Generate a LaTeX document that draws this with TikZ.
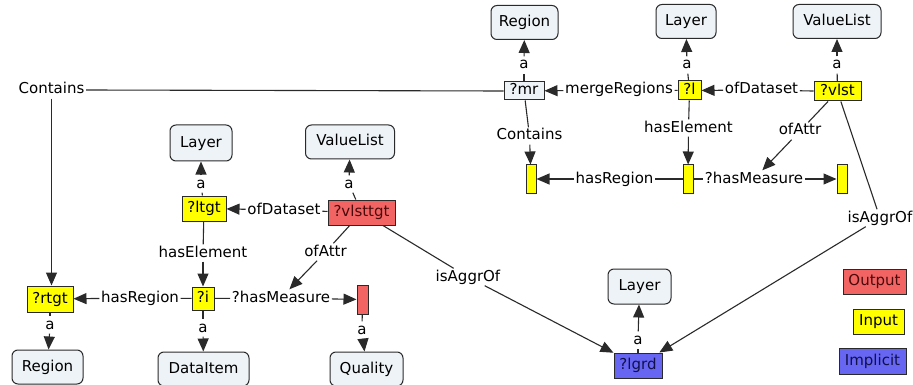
\documentclass[tikz,border=0pt]{standalone}
\usepackage{fontspec}
\setmainfont{DejaVu Sans}
\usetikzlibrary{arrows.meta}
\definecolor{clsfill}{HTML}{EDF3F6}
\definecolor{edgec}{HTML}{2A2A2A}
\definecolor{inyel}{HTML}{FFFF00}
\definecolor{outred}{HTML}{F26464}
\definecolor{impblue}{HTML}{6666F2}
\definecolor{outtext}{HTML}{4A0A0A}
\definecolor{imptext}{HTML}{10104A}

\begin{document}
\begin{tikzpicture}[x=1pt,y=-1pt,
  font=\fontsize{15}{17}\selectfont,
  cls/.style={draw=edgec, line width=1pt, fill=clsfill, rounded corners=6pt,
    minimum height=34pt, inner xsep=0pt, text height=11pt, text depth=3pt},
  var/.style={draw=edgec, line width=1pt, inner xsep=0pt, inner ysep=0pt,
    text height=11pt, text depth=3pt},
  inp/.style={var, fill=inyel},
  outp/.style={var, fill=outred, text=outtext},
  impl/.style={var, fill=impblue, text=imptext},
  slot/.style={draw=edgec, line width=1pt, minimum width=10pt,
    minimum height=28pt, inner sep=0pt},
  lab/.style={inner sep=1.5pt, text height=11pt, text depth=3pt},
  conn/.style={draw=edgec, line width=1.1pt},
  arr/.style={conn, -{Triangle[length=13pt,width=11pt]}},
]
\fill[white] (0,0) rectangle (913,385);
\useasboundingbox (0,0) rectangle (913,385);

% class boxes
\node[cls, minimum width=67pt] (regT) at (524.5,22.5) {Region};
\node[cls, minimum width=60pt] (layT) at (686,21.5) {Layer};
\node[cls, minimum width=88pt] (vlT) at (837,21.5) {ValueList};
\node[cls, minimum width=62pt, minimum height=36pt] (layL) at (201,143) {Layer};
\node[cls, minimum width=89pt] (vlL) at (350,142) {ValueList};
\node[cls, minimum width=71pt] (regB) at (47.5,367) {Region};
\node[cls, minimum width=91pt] (item) at (203.5,369) {DataItem};
\node[cls, minimum width=73pt] (qual) at (366.5,369) {Quality};
\node[cls, minimum width=63pt, minimum height=35pt] (layB) at (639.5,286.5) {Layer};

% variables, top pattern
\node[var, fill=clsfill, minimum width=40pt, minimum height=18pt] (mr) at (524,91) {?mr};
\node[inp, minimum width=23pt, minimum height=19pt] (l) at (689.5,90.5) {?l};
\node[inp, minimum width=47pt, minimum height=19pt] (vlst) at (837.5,91.5) {?vlst};
\node[slot, fill=inyel] (sL) at (531,179) {};
\node[slot, fill=inyel] (sM) at (688,179) {};
\node[slot, fill=inyel] (sR) at (842,179) {};

% variables, target pattern
\node[inp, minimum width=44pt, minimum height=25pt] (ltgt) at (204,208.5) {?ltgt};
\node[outp, minimum width=67pt, minimum height=25pt] (vlsttgt) at (361.5,212.5) {?vlsttgt};
\node[inp, minimum width=46pt, minimum height=26pt] (rtgt) at (50,299) {?rtgt};
\node[inp, minimum width=22pt, minimum height=23pt] (i) at (203,298.5) {?i};
\node[slot, fill=outred, minimum width=11pt, minimum height=29pt] (sQ) at (362.5,299.5) {};
\node[impl, minimum width=48pt, minimum height=25pt] (lgrd) at (638,365.5) {?lgrd};

% legend
\node[outp, minimum width=63pt, minimum height=25pt] (kOut) at (874.5,281.5) {Output};
\node[inp, minimum width=51pt, minimum height=25pt] (kIn) at (878.5,321.5) {Input};
\node[impl, minimum width=67pt, minimum height=26pt] (kImp) at (872.5,361) {Implicit};

% edge labels
\node[lab] (contA) at (51.5,90) {Contains};
\node[lab] (merge) at (619,90) {mergeRegions};
\node[lab] (ofdT) at (761.5,90) {ofDataset};
\node[lab] (contB) at (529.5,136) {Contains};
\node[lab] (helT) at (688.5,128) {hasElement};
\node[lab] (oattT) at (800,131) {ofAttr};
\node[lab] (hregT) at (614.5,179) {hasRegion};
\node[lab] (hmT) at (754,179) {?hasMeasure};
\node[lab] (aggT) at (880,218) {isAggrOf};
\node[lab] (ofdL) at (284,210) {ofDataset};
\node[lab] (helL) at (203,253) {hasElement};
\node[lab] (oattL) at (325.5,252) {ofAttr};
\node[lab] (hregL) at (140,298) {hasRegion};
\node[lab] (hmL) at (281,298) {?hasMeasure};
\node[lab] (aggL) at (468,277) {isAggrOf};

\node[lab] (aRegT) at (524,65) {a};
\node[lab] (aLayT) at (687,65) {a};
\node[lab] (aVlT) at (837,65) {a};
\node[lab] (aLayL) at (201,184) {a};
\node[lab] (aVlL) at (349,184) {a};
\node[lab] (aRtgt) at (50,325) {a};
\node[lab] (aItem) at (203,328) {a};
\node[lab] (aQ) at (362,330) {a};
\node[lab] (aLgrd) at (638,340) {a};

% connectors, top pattern
\draw[conn] (mr.west) -- (contA.east);
\draw[arr] (contA.south) -- (contA.south |- rtgt.north);
\draw[conn] (l) -- (merge);   \draw[arr] (merge) -- (mr);
\draw[conn] (vlst) -- (ofdT); \draw[arr] (ofdT) -- (l);
\draw[conn] (mr) -- (contB);  \draw[arr] (contB) -- (sL);
\draw[conn] (l) -- (helT);    \draw[arr] (helT) -- (sM);
\draw[conn] (vlst) -- (oattT); \draw[arr] (oattT) -- (hmT);
\draw[conn] (sM) -- (hregT);  \draw[arr] (hregT) -- (sL);
\draw[conn] (sM) -- (hmT);    \draw[arr] (hmT) -- (sR);
\draw[conn] (vlst) -- (aggT); \draw[arr] (aggT) -- (lgrd);

% connectors, target pattern
\draw[conn] (vlsttgt) -- (ofdL); \draw[arr] (ofdL) -- (ltgt);
\draw[conn] (ltgt) -- (helL);    \draw[arr] (helL) -- (i);
\draw[conn] (vlsttgt) -- (oattL); \draw[arr] (oattL) -- (hmL);
\draw[conn] (i) -- (hregL);      \draw[arr] (hregL) -- (rtgt);
\draw[conn] (i) -- (hmL);        \draw[arr] (hmL) -- (sQ);
\draw[conn] (vlsttgt) -- (aggL); \draw[arr] (aggL) -- (lgrd);

% type links
\draw[conn] (mr) -- (aRegT);     \draw[arr] (aRegT) -- (regT);
\draw[conn] (l) -- (aLayT);      \draw[arr] (aLayT) -- (layT);
\draw[conn] (vlst) -- (aVlT);    \draw[arr] (aVlT) -- (vlT);
\draw[conn] (ltgt) -- (aLayL);   \draw[arr] (aLayL) -- (layL);
\draw[conn] (vlsttgt) -- (aVlL); \draw[arr] (aVlL) -- (vlL);
\draw[conn] (rtgt) -- (aRtgt);   \draw[arr] (aRtgt) -- (regB);
\draw[conn] (i) -- (aItem);      \draw[arr] (aItem) -- (item);
\draw[conn] (sQ) -- (aQ);        \draw[arr] (aQ) -- (qual);
\draw[conn] (lgrd) -- (aLgrd);   \draw[arr] (aLgrd) -- (layB);
\end{tikzpicture}
\end{document}
